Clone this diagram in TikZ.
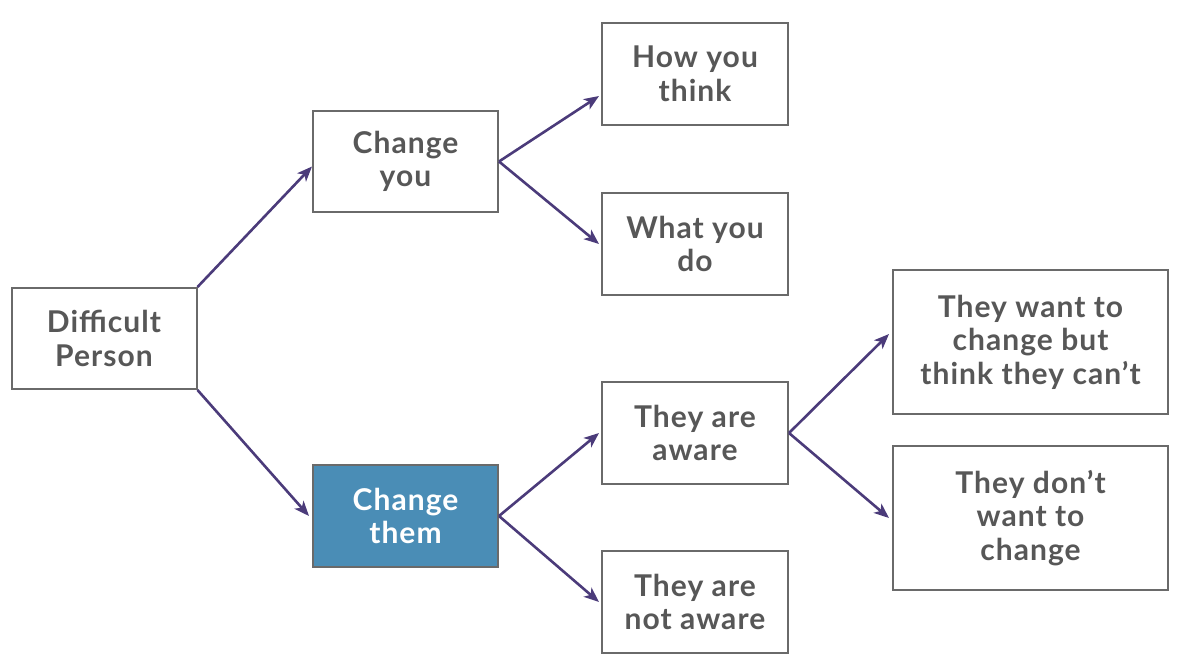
\documentclass[tikz,border=0pt]{standalone}
\usepackage{fontspec}
\setmainfont{Lato}[LetterSpace=3.5]
\usetikzlibrary{arrows.meta}
\definecolor{boxline}{HTML}{6A6A6A}
\definecolor{txt}{HTML}{575757}
\definecolor{arr}{HTML}{4B3B7A}
\definecolor{hl}{HTML}{4A8DB6}
\begin{document}
\begin{tikzpicture}[x=1pt,y=-1pt,
  box/.style={draw=boxline,line width=2pt,fill=white,minimum width=#1,inner sep=0pt,align=center,
    font=\fontsize{30}{33.5}\selectfont\bfseries,text=txt},
  box/.default=185pt,
  conn/.style={draw=arr,line width=2.6pt,-{Stealth[length=15pt,width=12pt,inset=4pt]}}]
\useasboundingbox (0,0) rectangle (1190,665);
\node[box, minimum height=101pt] (dp) at (104,338.5) {Difficult\\Person};
\node[box, minimum height=101pt] (cy) at (405.5,161.5) {Change\\you};
\node[box, minimum height=102pt, fill=hl, text=white] (ct) at (405.5,516) {Change\\them};
\node[box=186pt, minimum height=102pt] (ht) at (695,74) {How you\\think};
\node[box=186pt, minimum height=102pt] (wd) at (695,244) {What you\\do};
\node[box=186pt, minimum height=102pt] (aw) at (695,433) {They are\\aware};
\node[box=186pt, minimum height=102pt] (na) at (695,602) {They are\\not aware};
\node[box=275pt, minimum height=144pt] (wc) at (1030.5,342) {They want to\\change but\\think they can’t};
\node[box=275pt, minimum height=144pt] (dw) at (1030.5,518) {They don’t\\want to\\change};
\draw[conn] (dp.north east) -- ([yshift=-5pt]cy.west);
\draw[conn] (dp.south east) -- ([xshift=-3pt]ct.west);
\draw[conn] (cy.east) -- ([xshift=-2pt,yshift=-22pt]ht.west);
\draw[conn] (cy.east) -- ([xshift=-2pt]wd.west);
\draw[conn] (ct.east) -- ([xshift=-2pt]aw.west);
\draw[conn] (ct.east) -- ([xshift=-2pt]na.west);
\draw[conn] (aw.east) -- ([xshift=-3pt,yshift=8pt]wc.west);
\draw[conn] (aw.east) -- ([xshift=-3pt]dw.west);
\end{tikzpicture}
\end{document}
